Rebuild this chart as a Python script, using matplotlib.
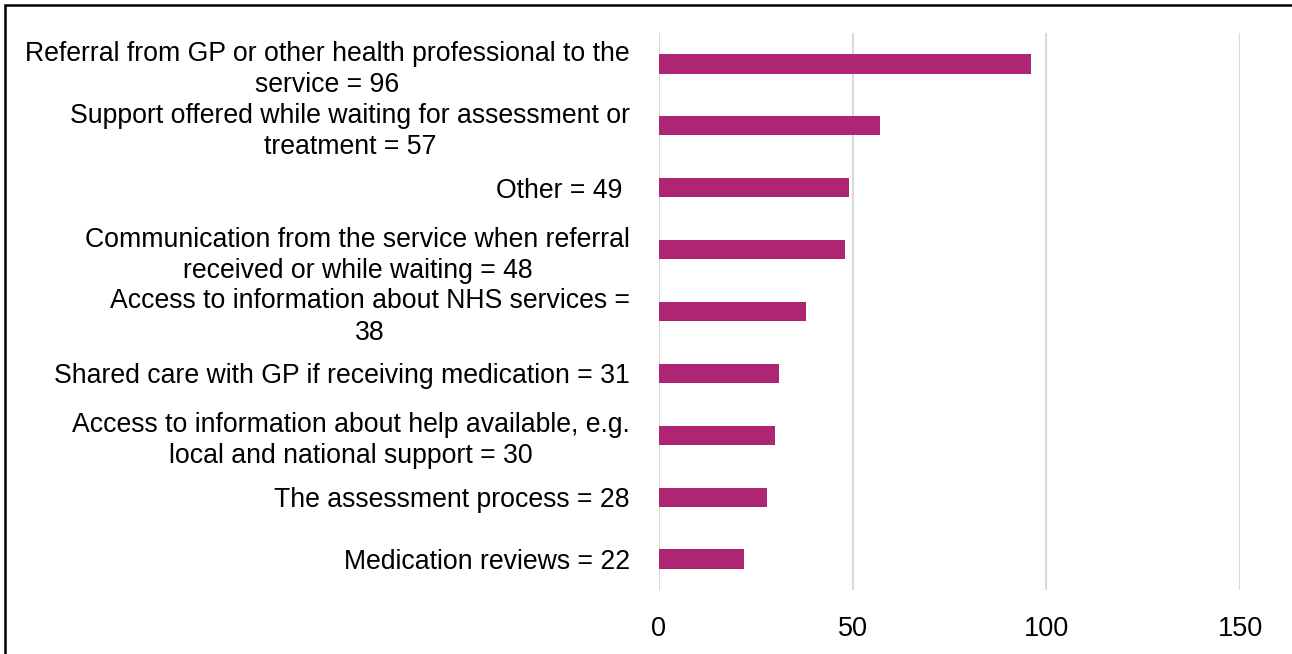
import matplotlib.pyplot as plt
from matplotlib.patches import Rectangle

plt.rcParams['font.family'] = ['Liberation Sans', 'DejaVu Sans']

labels = [
    'Referral from GP or other health professional to the\nservice = 96',
    'Support offered while waiting for assessment or\ntreatment = 57',
    'Other = 49 ',
    'Communication from the service when referral\nreceived or while waiting = 48',
    'Access to information about NHS services =\n38',
    'Shared care with GP if receiving medication = 31',
    'Access to information about help available, e.g.\nlocal and national support = 30',
    'The assessment process = 28',
    'Medication reviews = 22',
]
values = [96, 57, 49, 48, 38, 31, 30, 28, 22]
xticks = [0, 50, 100, 150]

fig = plt.figure(figsize=(12.92, 6.54), dpi=100)
ax = fig.add_axes([659 / 1292, 64 / 654, (1240 - 659) / 1292, 557 / 654])

pos = list(range(len(values)))
ax.barh(pos, values, height=0.31, color='#AE2573', zorder=3)
ax.set_ylim(len(values) - 0.5, -0.5)
ax.set_xlim(0, 150)
ax.set_xticks(xticks)
ax.set_yticks(pos)
ax.set_yticklabels(labels, multialignment='center', linespacing=1.25)
ax.tick_params(axis='y', length=0, pad=21, labelsize=19.2)
ax.tick_params(axis='x', length=0, pad=19, labelsize=19.5)
ax.grid(axis='x', color='#D9D9D9', linewidth=1.5, zorder=0)
for s in ax.spines.values():
    s.set_visible(False)

# outer frame, open on the right and bottom
fig.patches.append(Rectangle((5 / 1292, -0.1), 1.2, 1.1 - 5 / 654, transform=fig.transFigure,
                             fill=False, edgecolor='black', linewidth=1.8))

fig.savefig('out.png', dpi=100)
